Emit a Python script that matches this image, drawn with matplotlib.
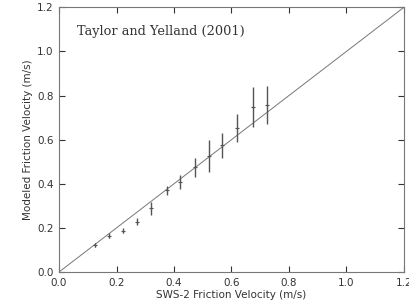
import matplotlib
matplotlib.use('Agg')
import matplotlib.pyplot as plt
import numpy as np

# SWS-2 vs modeled friction velocity
sws2_ustar = [0.125, 0.174, 0.221, 0.272, 0.319, 0.374, 0.420, 0.473, 0.521, 0.568, 0.618, 0.676, 0.724]
model_ustar = [0.122, 0.165, 0.187, 0.228, 0.288, 0.370, 0.410, 0.474, 0.525, 0.574, 0.652, 0.748, 0.757]
model_err = [0.010, 0.012, 0.012, 0.015, 0.030, 0.022, 0.032, 0.045, 0.072, 0.055, 0.063, 0.092, 0.087]

ticks = [0.0, 0.2, 0.4, 0.6, 0.8, 1.0, 1.2]
tick_labels = ['0.0', '0.2', '0.4', '0.6', '0.8', '1.0', '1.2']
one_to_one = [0.0, 1.2]

fig = plt.figure(figsize=(4.1, 3.07), dpi=100)
ax = fig.add_axes([0.144, 0.114, 0.841, 0.862])

line_col = '#555555'
ax.plot(one_to_one, one_to_one, color='#777777', lw=0.7)
ax.errorbar(sws2_ustar, model_ustar, yerr=model_err, fmt='+', color=line_col,
            ms=3, mew=0.8, elinewidth=1.0, capsize=0)

ax.set_xlim(0, 1.2)
ax.set_ylim(0, 1.2)
ax.set_xticks(ticks)
ax.set_xticklabels(tick_labels)
ax.set_yticks(ticks)
ax.set_yticklabels(tick_labels)
ax.tick_params(direction='in', length=4, width=0.8, top=True, right=True,
               labelsize=7.5, colors='#333333', pad=4)
for sp in ax.spines.values():
    sp.set_color('#777777')
    sp.set_linewidth(0.8)

ax.set_xlabel('SWS-2 Friction Velocity (m/s)', fontsize=7.5, color='#333333', labelpad=1.5)
ax.set_ylabel('Modeled Friction Velocity (m/s)', fontsize=7.5, color='#333333', labelpad=3)

ax.text(0.063, 1.09, 'Taylor and Yelland (2001)', family='DejaVu Serif', fontsize=9.3,
        color='#333333', va='center', ha='left')

plt.savefig('out.png', dpi=100)
plt.close(fig)
